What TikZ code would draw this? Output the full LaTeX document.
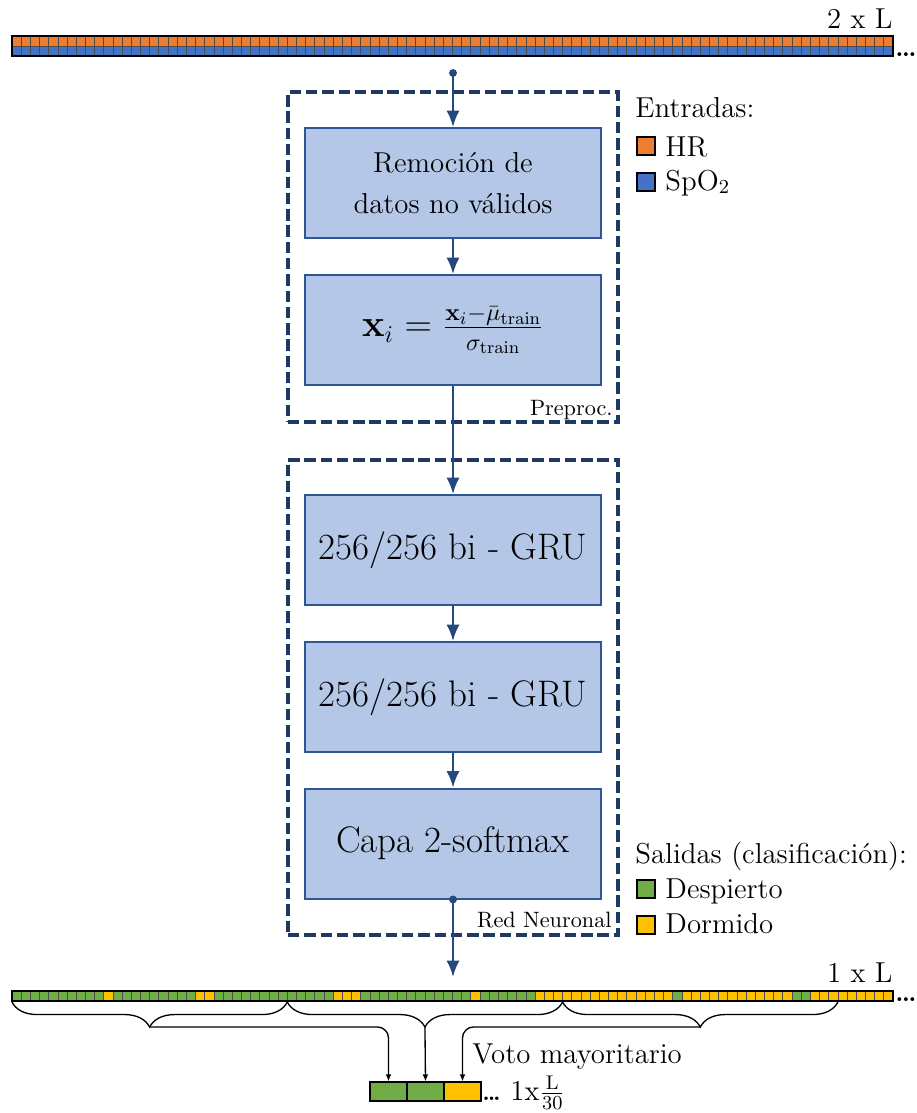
\documentclass[tikz,border=0pt]{standalone}
\usepackage{amsmath}
\usetikzlibrary{arrows.meta,decorations.pathreplacing,calc}
\definecolor{hrc}{HTML}{ED7D31}
\definecolor{spc}{HTML}{4472C4}
\definecolor{awk}{HTML}{70AD47}
\definecolor{slp}{HTML}{FFC000}
\definecolor{boxfill}{HTML}{B4C7E7}
\definecolor{boxline}{HTML}{2F5597}
\definecolor{arrc}{HTML}{24497F}
\definecolor{dashc}{HTML}{203864}
\def\upx{0.4545pt}
\begin{document}
\begin{tikzpicture}[x=0.4545pt, y=-0.4545pt, font=\fontsize{13.1}{15.7}\selectfont,
  blockbox/.style={draw=boxline, fill=boxfill, line width=0.9pt, minimum width=296*\upx, minimum height=110*\upx, inner sep=0pt, align=center},
  bigtext/.style={font=\fontsize{16.8}{20}\selectfont},
  mathtext/.style={font=\fontsize{16.2}{19.4}\selectfont},
  groupbox/.style={draw=dashc, line width=1.5pt, dash pattern=on 5.2pt off 2.2pt, minimum width=330*\upx, inner sep=0pt},
  flow/.style={draw=arrc, line width=1pt, -{Latex[length=7.5pt,width=6pt]}},
  cellline/.style={draw=black!70, line width=0.35pt},
  legsq/.style={draw=black, line width=0.7pt, minimum size=18*\upx, inner sep=0pt},
  vote/.style={draw=black, line width=0.5pt, minimum width=37*\upx, minimum height=19*\upx, inner sep=0pt},
  thinarr/.style={draw=black, line width=0.6pt, -{Latex[length=3.2pt,width=2.6pt]}, rounded corners=5pt},
  bracedeco/.style={draw=black, line width=0.6pt, decorate, decoration={brace, mirror, amplitude=11.4pt}},
  lbl/.style={inner sep=0pt},
  smalllbl/.style={inner sep=0pt, font=\fontsize{10.1}{12}\selectfont}
]
\useasboundingbox (0,0) rectangle (916,1113);

% ---- input bar ----
\foreach \i in {0,...,95} {
  \path[cellline, fill=hrc] ({12+\i*9.177},36) rectangle ++(9.177,10);
  \path[cellline, fill=spc] ({12+\i*9.177},46) rectangle ++(9.177,10);
}
\draw[line width=0.8pt] (12,36) rectangle (893,56);
\node[lbl, anchor=base east] (inlen) at (893,28) {2 x L};
\node[lbl, anchor=base west, font=\fontsize{12}{14}\selectfont] (indots) at (895,56) {\textbf{.\kern-0.85pt.\kern-0.85pt.}};

% ---- groups ----
\node[groupbox, minimum height=330*\upx] (g1) at (453,257) {};
\node[groupbox, minimum height=475*\upx] (g2) at (453,697.5) {};
\node[smalllbl, anchor=base east] (lpre) at (613,415) {Preproc.};
\node[smalllbl, anchor=base east] (lnet) at (612,927) {Red Neuronal};

% ---- blocks ----
\node[blockbox, font=\fontsize{13.1}{18.3}\selectfont] (b1) at (453,183) {Remoción de\\datos no válidos};
\node[blockbox, mathtext] (b2) at (453,330) {$\mathbf{x}_i = \frac{\mathbf{x}_i - \bar{\mu}_{\mathrm{train}}}{\sigma_{\mathrm{train}}}$};
\node[blockbox, bigtext] (b3) at (453,550) {256/256 bi - GRU};
\node[blockbox, bigtext] (b4) at (453,697) {256/256 bi - GRU};
\node[blockbox, bigtext] (b5) at (453,843.5) {Capa 2-softmax};

% ---- flow ----
\coordinate (src) at (453,73);
\coordinate (dst) at (453,977);
\fill[arrc] (src) circle (1.8pt);
\draw[flow] (src) -- (b1.north);
\draw[flow] (b1) -- (b2);
\draw[flow] (b2) -- (b3);
\draw[flow] (b3) -- (b4);
\draw[flow] (b4) -- (b5);
\fill[arrc] (b5.south) circle (1.8pt);
\draw[flow] (b5.south) -- (dst);

% ---- legends ----
\node[lbl, anchor=base west] (lin) at (635,117) {Entradas:};
\node[legsq, fill=hrc, anchor=south west] (shr) at (636,156) {};
\node[lbl, anchor=base west] (thr) at (665,156) {HR};
\node[legsq, fill=spc, anchor=south west] (ssp) at (636,192) {};
\node[lbl, anchor=base west] (tsp) at (665,190) {SpO$_2$};
\node[lbl, anchor=base west] (lout) at (635,863) {Salidas (clasificación):};
\node[legsq, fill=awk, anchor=south west] (saw) at (636,899) {};
\node[lbl, anchor=base west] (taw) at (665,898) {Despierto};
\node[legsq, fill=slp, anchor=south west] (ssl) at (636,935) {};
\node[lbl, anchor=base west] (tsl) at (665,933) {Dormido};

% ---- output bar ----
\foreach \i in {0,...,95} {
  \path[cellline, fill=awk] ({12+\i*9.177},991) rectangle ++(9.177,10);
}
\foreach \i in {10,20,21,35,36,37,50} {
  \path[cellline, fill=slp] ({12+\i*9.177},991) rectangle ++(9.177,10);
}
\foreach \i in {57,...,71} {
  \path[cellline, fill=slp] ({12+\i*9.177},991) rectangle ++(9.177,10);
}
\foreach \i in {73,...,84} {
  \path[cellline, fill=slp] ({12+\i*9.177},991) rectangle ++(9.177,10);
}
\foreach \i in {87,...,95} {
  \path[cellline, fill=slp] ({12+\i*9.177},991) rectangle ++(9.177,10);
}
\draw[line width=0.8pt] (12,991) rectangle (893,1001);
\node[lbl, anchor=base east] (outlen) at (893,982) {1 x L};
\node[lbl, anchor=base west, font=\fontsize{12}{14}\selectfont] (outdots) at (895,1001) {\textbf{.\kern-0.85pt.\kern-0.85pt.}};

% ---- braces ----
\coordinate (c0) at (12,1002);
\coordinate (c1) at (287.3,1002);
\coordinate (c2) at (562.6,1002);
\coordinate (c3) at (837.9,1002);
\coordinate (t1) at (149.7,1027);
\coordinate (t2) at (424.95,1027);
\coordinate (t3) at (700.25,1027);
\draw[bracedeco] (c0) -- (c1);
\draw[bracedeco] (c1) -- (c2);
\draw[bracedeco] (c2) -- (c3);

% ---- vote ----
\node[vote, fill=awk] (v1) at (388.5,1091.5) {};
\node[vote, fill=awk] (v2) at (425.5,1091.5) {};
\node[vote, fill=slp] (v3) at (462.5,1091.5) {};
\draw[thinarr] (t1) -| (v1.north);
\draw[thinarr] (t2) -- (v2.north);
\draw[thinarr] (t3) -| (v3.north);
\node[lbl, anchor=base west] (vlbl) at (472,1063) {Voto mayoritario};
\node[lbl, anchor=base west, font=\fontsize{11}{13}\selectfont] (vdots) at (482,1100) {\textbf{.\kern-1pt.\kern-1pt.}};
\node[lbl, anchor=base west] (vlen) at (510,1100) {1x$\frac{\mathrm{L}}{30}$};
\end{tikzpicture}
\end{document}
